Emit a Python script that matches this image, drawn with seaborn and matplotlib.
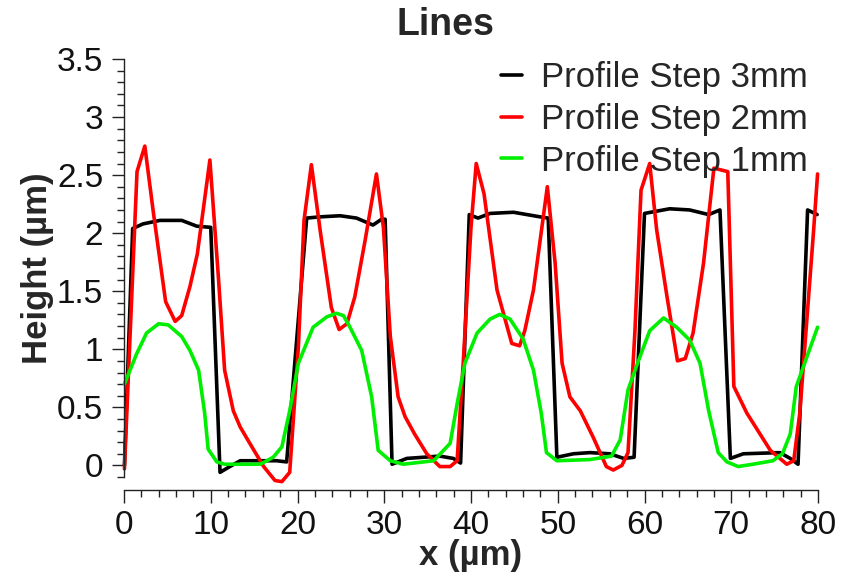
import matplotlib
matplotlib.use("Agg")
import matplotlib.pyplot as plt
import seaborn as sns
import pandas as pd
from matplotlib.ticker import MultipleLocator

# ---- data ----
x_3mm = [0.05, 1.0, 2.2, 4.15, 6.65, 8.4, 10.0, 11.07, 12.2, 13.4, 17.6, 18.75,
         21.06, 22.5, 24.9, 26.8, 28.7, 29.7, 30.1, 30.9, 32.6, 36.4, 37.96, 38.8,
         39.8, 40.8, 42.2, 44.9, 48.0, 48.9, 49.9, 51.8, 53.7, 56.0, 57.6, 58.8,
         60.0, 62.9, 65.2, 67.4, 68.7, 69.9, 71.4, 75.6, 76.8, 77.7, 78.8, 79.9]
y_3mm = [0.0, 2.04, 2.08, 2.11, 2.11, 2.06, 2.05, -0.06, -0.01, 0.04, 0.04, 0.03,
         2.13, 2.14, 2.15, 2.13, 2.07, 2.12, 2.12, 0.01, 0.06, 0.08, 0.06, 0.02,
         2.16, 2.13, 2.17, 2.18, 2.14, 2.13, 0.07, 0.10, 0.11, 0.10, 0.06, 0.07,
         2.17, 2.21, 2.20, 2.16, 2.20, 0.06, 0.10, 0.11, 0.06, 0.01, 2.20, 2.16]

x_2mm = [0.05, 1.5, 2.4, 3.4, 4.8, 5.9, 6.65, 7.6, 8.45, 9.9, 10.9, 11.6, 12.6,
         13.4, 14.5, 16.1, 17.4, 18.2, 19.1, 20.1, 20.75, 21.6, 22.6, 23.9, 24.8,
         25.7, 26.6, 27.8, 29.1, 29.9, 30.7, 31.6, 32.4, 33.5, 34.9, 36.4, 37.6,
         38.4, 39.1, 40.0, 40.6, 41.5, 43.0, 44.7, 45.6, 46.2, 47.2, 48.8, 49.7,
         50.5, 51.4, 52.6, 54.1, 55.6, 56.4, 57.4, 58.1, 58.9, 59.6, 60.6, 61.4,
         62.6, 63.8, 64.7, 65.6, 66.8, 68.0, 69.6, 70.3, 71.8, 74.5, 76.4, 77.2,
         77.9, 79.5, 79.95]
y_2mm = [-0.03, 2.53, 2.75, 2.17, 1.41, 1.24, 1.29, 1.54, 1.82, 2.63, 1.60, 0.82,
         0.47, 0.33, 0.19, -0.01, -0.13, -0.14, -0.06, 1.02, 2.11, 2.59, 2.03, 1.36,
         1.17, 1.22, 1.45, 1.94, 2.51, 2.05, 1.11, 0.59, 0.42, 0.27, 0.10, -0.01,
         -0.01, 0.04, 0.88, 2.05, 2.60, 2.34, 1.51, 1.05, 1.03, 1.16, 1.51, 2.40,
         1.74, 0.88, 0.59, 0.47, 0.24, -0.01, -0.04, 0.00, 0.11, 1.16, 2.37, 2.60,
         2.03, 1.45, 0.90, 0.92, 1.14, 1.74, 2.56, 2.53, 0.68, 0.45, 0.13, 0.01,
         0.04, 0.45, 2.03, 2.51]

x_1mm = [0.05, 1.45, 2.6, 4.0, 5.1, 6.65, 7.6, 8.6, 9.3, 9.7, 10.7, 11.6, 15.7,
         17.2, 18.2, 19.1, 20.1, 21.8, 23.4, 24.5, 25.3, 26.05, 27.4, 28.55, 29.3,
         30.7, 32.2, 35.7, 37.6, 38.4, 39.3, 40.7, 42.2, 43.3, 44.5, 46.0, 47.2,
         48.1, 48.7, 49.9, 53.7, 56.2, 57.2, 58.1, 59.3, 60.6, 62.2, 63.7, 65.2,
         66.4, 67.4, 68.5, 69.5, 70.8, 72.5, 74.8, 75.9, 76.8, 77.5, 78.7, 79.95]
y_1mm = [0.70, 0.96, 1.14, 1.22, 1.21, 1.11, 0.99, 0.82, 0.45, 0.14, 0.03, 0.01, 0.01,
         0.07, 0.16, 0.47, 0.88, 1.19, 1.28, 1.31, 1.29, 1.19, 0.99, 0.59, 0.13,
         0.04, 0.01, 0.04, 0.19, 0.53, 0.88, 1.14, 1.26, 1.30, 1.26, 1.09, 0.82,
         0.45, 0.11, 0.04, 0.05, 0.08, 0.22, 0.65, 0.90, 1.16, 1.27, 1.19, 1.08,
         0.88, 0.47, 0.11, 0.03, -0.01, 0.01, 0.04, 0.10, 0.27, 0.68, 0.93, 1.19]

labels = ["Profile Step 3mm", "Profile Step 2mm", "Profile Step 1mm"]
colors = ["#000000", "#ff0000", "#00ee00"]
x_ticks = [0, 10, 20, 30, 40, 50, 60, 70, 80]
y_ticks = [0, 0.5, 1, 1.5, 2, 2.5, 3, 3.5]
y_tick_labels = ["0", "0.5", "1", "1.5", "2", "2.5", "3", "3.5"]

df = pd.concat([
    pd.DataFrame({"x": x_3mm, "y": y_3mm, "series": labels[0]}),
    pd.DataFrame({"x": x_2mm, "y": y_2mm, "series": labels[1]}),
    pd.DataFrame({"x": x_1mm, "y": y_1mm, "series": labels[2]}),
], ignore_index=True)

sns.set_style("ticks")
plt.rcParams["font.family"] = ["Liberation Sans", "DejaVu Sans"]

fig = plt.figure(figsize=(8.41, 5.83), dpi=100)
ax = fig.add_axes([124 / 841, 1 - 477 / 583, (818 - 124) / 841, (477 - 59) / 583])

sns.lineplot(data=df, x="x", y="y", hue="series", palette=dict(zip(labels, colors)),
             hue_order=labels, sort=False, estimator=None, linewidth=2.6, ax=ax)
for ln in ax.get_lines():
    ln.set_clip_on(False)

ax.set_xlim(0, 80)
ax.set_ylim(-0.1, 3.5)
ax.set_xticks(x_ticks)
ax.set_yticks(y_ticks)
ax.set_yticklabels(y_tick_labels)
ax.xaxis.set_minor_locator(MultipleLocator(2))
ax.yaxis.set_minor_locator(MultipleLocator(0.1))

for s in ["top", "right"]:
    ax.spines[s].set_visible(False)
ax.spines["bottom"].set_position(("outward", 9))
for s in ["left", "bottom"]:
    ax.spines[s].set_linewidth(1.0)
    ax.spines[s].set_color("#222222")

ax.tick_params(axis="both", which="major", direction="out", length=9, width=1.0,
               labelsize=24, colors="#222222", labelcolor="#111111", pad=6)
ax.tick_params(axis="both", which="minor", direction="out", length=5, width=1.0,
               colors="#222222")

ax.set_xlabel("x (µm)", fontsize=25, fontweight="bold", labelpad=-2)
ax.set_ylabel("Height (µm)", fontsize=25, fontweight="bold", labelpad=2)

fig.text(445 / 841, 1 - 35 / 583, "Lines", fontsize=27, fontweight="bold",
         ha="center", va="baseline")

leg = ax.legend(loc="upper right", frameon=False, fontsize=25, handlelength=0.6,
                handletextpad=0.55, labelspacing=0.25, borderaxespad=0.0,
                bbox_to_anchor=(1.005, 1.028))
for h in leg.get_lines():
    h.set_linewidth(2.6)

fig.savefig("out.png", dpi=100)
